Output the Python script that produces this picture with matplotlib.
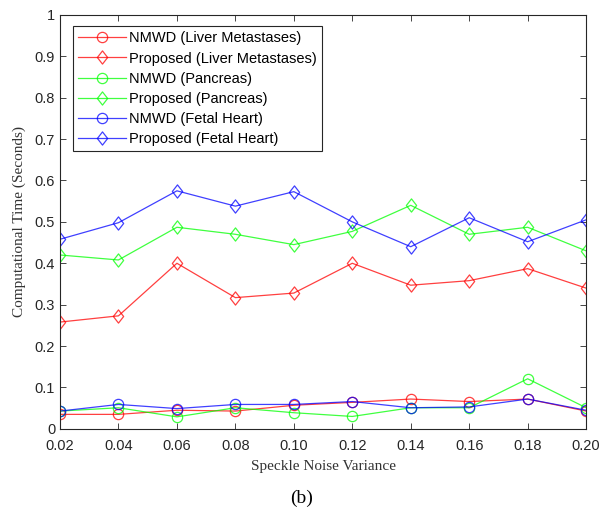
"""Computational time vs speckle noise variance."""

import matplotlib
matplotlib.use("Agg")
import matplotlib.pyplot as plt
import numpy as np
from matplotlib.path import Path

variance = [0.02, 0.04, 0.06, 0.08, 0.10, 0.12, 0.14, 0.16, 0.18, 0.20]

nmwd_liver = [0.035, 0.035, 0.045, 0.043, 0.057, 0.064, 0.072, 0.066, 0.072, 0.043]
proposed_liver = [0.258, 0.273, 0.400, 0.317, 0.328, 0.400, 0.347, 0.358, 0.387, 0.340]
nmwd_pancreas = [0.043, 0.051, 0.029, 0.051, 0.039, 0.030, 0.051, 0.051, 0.121, 0.051]
proposed_pancreas = [0.420, 0.408, 0.487, 0.470, 0.445, 0.477, 0.540, 0.470, 0.487, 0.430]
nmwd_fetal = [0.043, 0.059, 0.049, 0.059, 0.059, 0.066, 0.051, 0.053, 0.072, 0.045]
proposed_fetal = [0.458, 0.498, 0.575, 0.538, 0.573, 0.500, 0.440, 0.510, 0.452, 0.505]

# matlab-like diamond, a bit taller than wide
diamond = Path([(0, -1), (0.78, 0), (0, 1), (-0.78, 0), (0, -1)],
               [Path.MOVETO, Path.LINETO, Path.LINETO, Path.LINETO, Path.CLOSEPOLY])

series = [
    ("NMWD (Liver Metastases)", nmwd_liver, "#ff0000", "o"),
    ("Proposed (Liver Metastases)", proposed_liver, "#ff0000", diamond),
    ("NMWD (Pancreas)", nmwd_pancreas, "#00ff00", "o"),
    ("Proposed (Pancreas)", proposed_pancreas, "#00ff00", diamond),
    ("NMWD (Fetal Heart)", nmwd_fetal, "#0000ff", "o"),
    ("Proposed (Fetal Heart)", proposed_fetal, "#0000ff", diamond),
]

fig = plt.figure(figsize=(6.03, 5.13), dpi=100)
ax = fig.add_axes([0.0995, 0.164, 0.8725, 0.807])

for label, values, color, marker in series:
    size = 7.4 if marker == "o" else 9.5
    ax.plot(variance, values, color=color, marker=marker, markersize=size,
            markerfacecolor="none", markeredgewidth=0.9, linewidth=0.9,
            alpha=0.75, label=label)

ax.set_xlim(0.02, 0.20)
ax.set_ylim(0, 1)
ax.set_xticks(variance)
ax.set_xticklabels([f"{v:.2f}" for v in variance])
ax.set_yticks(np.arange(0, 1.01, 0.1))
ax.set_yticklabels(["0"] + [f"{v:.1f}" for v in np.arange(0.1, 0.95, 0.1)] + ["1"])

ax.tick_params(direction="in", top=True, right=True, length=4, width=0.6,
               labelsize=10.5, colors="#262626")
ax.tick_params(axis="x", pad=7)
for lbl in ax.get_xticklabels() + ax.get_yticklabels():
    lbl.set_family("Liberation Sans")
for spine in ax.spines.values():
    spine.set_linewidth(0.8)
    spine.set_color("#262626")

ax.set_xlabel("Speckle Noise Variance", family="Liberation Serif", fontsize=11,
              color="#333333", labelpad=5)
ax.set_ylabel("Computational Time (Seconds)", family="Liberation Serif",
              fontsize=11, color="#333333", labelpad=6)

legend = ax.legend(loc="upper left", bbox_to_anchor=(0.01, 0.99),
                   prop={"family": "Liberation Sans", "size": 10.5},
                   fancybox=False, edgecolor="#262626", framealpha=1,
                   handlelength=3.3, borderpad=0.35, labelspacing=0.42,
                   handletextpad=0.2)
legend.get_frame().set_linewidth(0.8)

fig.text(0.5, 0.028, "(b)", ha="center", va="center",
         family="Liberation Serif", fontsize=14)

fig.savefig("out.png", dpi=100)
